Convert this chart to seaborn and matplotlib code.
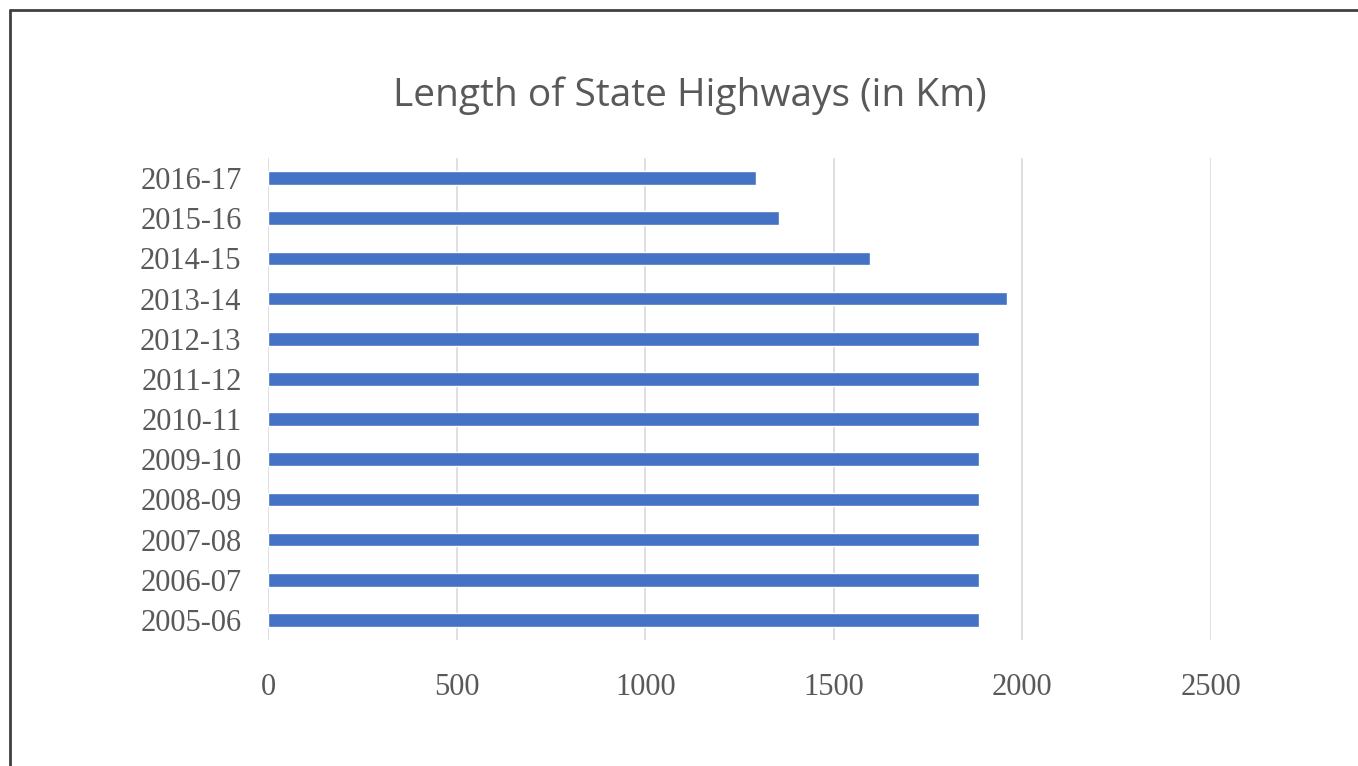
import matplotlib
matplotlib.use("Agg")
import matplotlib.pyplot as plt
import seaborn as sns
import pandas as pd
from matplotlib.lines import Line2D

years = ["2016-17", "2015-16", "2014-15", "2013-14", "2012-13", "2011-12",
         "2010-11", "2009-10", "2008-09", "2007-08", "2006-07", "2005-06"]
lengths = [1293, 1355, 1595, 1958, 1884, 1884, 1884, 1884, 1884, 1884, 1884, 1884]
xticks = [0, 500, 1000, 1500, 2000, 2500]

df = pd.DataFrame({"year": years, "length": lengths})

sns.set_theme(style="white")
fig = plt.figure(figsize=(13.58, 7.66), dpi=100)
ax = fig.add_axes([268/1358, 126/766, (1211-268)/1358, (640-158)/766])

sns.barplot(data=df, x="length", y="year", orient="h", color="#4472C4",
            width=0.34, saturation=1, ax=ax, zorder=3)

ax.set_xlim(0, 2500)
ax.set_ylim(11.5, -0.5)
ax.set_xticks(xticks)
ax.set_xticklabels([str(t) for t in xticks])
ax.grid(axis="x", color="#D9D9D9", linewidth=1.2, zorder=0)
ax.grid(axis="y", visible=False)
for s in ax.spines.values():
    s.set_visible(False)
ax.set_xlabel("")
ax.set_ylabel("")
ax.tick_params(axis="both", length=0, labelcolor="#595959")
ax.tick_params(axis="x", pad=24)
ax.tick_params(axis="y", pad=19)
for lab in ax.get_xticklabels() + ax.get_yticklabels():
    lab.set_fontfamily("Liberation Serif")
    lab.set_fontsize(22)

fig.text(0.508, 1 - 96/766, "Length of State Highways (in Km)", ha="center", va="center",
         fontsize=28, color="#595959", family="Open Sans")

# frame lines (top and left)
fig.add_artist(Line2D([10/1358, 10/1358], [0, 1 - 10/766], transform=fig.transFigure,
                      color="#404040", linewidth=2))
fig.add_artist(Line2D([10/1358, 1], [1 - 10/766, 1 - 10/766], transform=fig.transFigure,
                      color="#404040", linewidth=2))

fig.savefig("out.png", dpi=100, facecolor="white")
